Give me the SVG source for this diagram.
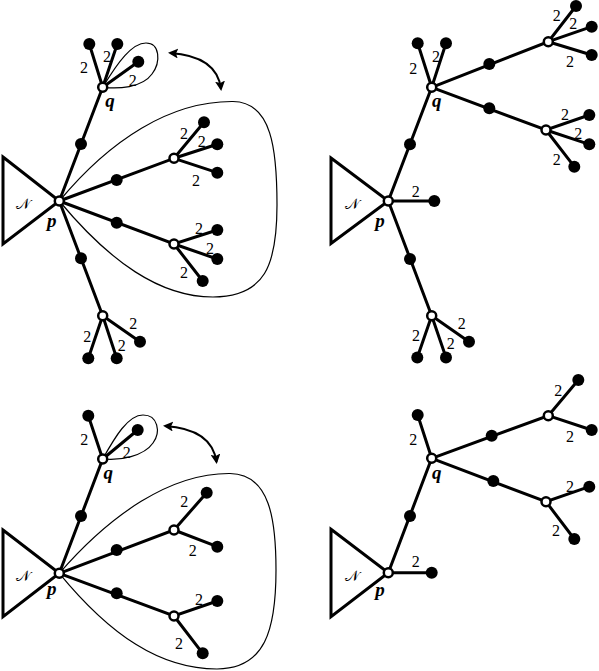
<svg xmlns="http://www.w3.org/2000/svg" width="599" height="671" viewBox="0 0 599 671">
<style>
.e{stroke:#000;stroke-width:3;fill:none;stroke-linecap:round}
.t{stroke:#000;stroke-width:3;fill:none;stroke-linejoin:miter}
.lp{stroke:#000;stroke-width:1.2;fill:none}
.ar{stroke:#000;stroke-width:2;fill:none}
.d{fill:#000}
.h{fill:#fff;stroke:#000;stroke-width:2.5}
.n{font-family:"Liberation Serif",serif;font-size:16px;text-anchor:middle}
.v{font-family:"Liberation Serif",serif;font-size:19px;font-weight:bold;font-style:italic;text-anchor:middle}
.N{font-family:"DejaVu Serif","Liberation Serif",serif;font-size:15px;font-weight:normal;text-anchor:middle}
</style>
<defs>
<marker id="ah" viewBox="0 0 10 10" refX="8" refY="5" markerWidth="5" markerHeight="5" orient="auto-start-reverse" markerUnits="strokeWidth">
<path d="M0,0 L10,5 L0,10 L2,5 Z" fill="#000"/>
</marker>
</defs>

<g id="connectors">
<!-- panel 1 -->
<path class="e" d="M102.7,87.3 L89.3,44 M102.7,87.3 L117.3,44 M102.7,87.3 L138.3,61.7 M102.7,87.3 L59.3,201 M59.3,201 L174,158.3 L204,122.3 M174,158.3 L217.3,144.3 M174,158.3 L217.3,172.7 M59.3,201 L174,244 L217.3,230 M174,244 L217.3,259 M174,244 L202.7,281 M59.3,201 L102.7,315.7 L88.3,358.3 M102.7,315.7 L116.7,358.3 M102.7,315.7 L140,341.7"/>
<path class="t" d="M3,157 L59.3,201 L3,244 Z"/>
<path class="lp" d="M102.7,87.3 C118,62 132,43 146,43 C160,43 161,62 152,74 C142,88 118,89 102.7,87.3 Z"/>
<path class="lp" d="M59.3,201 C110,140 170,101 233,101.5 C272,102 277,150 277,205 C277,265 265,297 213,297 C160,297 110,262 59.3,201 Z"/>
<path class="ar" d="M170,53 Q217,56 221,89" marker-start="url(#ah)" marker-end="url(#ah)"/>
<!-- panel 2 -->
<path class="e" d="M431.7,87.3 L417.7,43.3 M431.7,87.3 L446,43.3 M431.7,87.3 L548.3,41.7 L576,6 M548.3,41.7 L591.7,26.7 M548.3,41.7 L591.7,55 M431.7,87.3 L546,130 L589.3,115 M546,130 L589.3,144.3 M546,130 L574.3,166.7 M431.7,87.3 L388.3,201 L434.3,201 M388.3,201 L431.7,315.7 L417.3,357.5 M431.7,315.7 L446,357.5 M431.7,315.7 L469,341.7"/>
<path class="t" d="M331,158 L388.3,201 L331,243.5 Z"/>
<!-- panel 3 -->
<path class="e" d="M102.7,459 L88.3,415.7 M102.7,459 L137.7,430 M102.7,459 L59.3,573.3 M59.3,573.3 L174,530 L206.7,492.7 M174,530 L217.3,546.7 M59.3,573.3 L174,616 L217.3,601 M174,616 L202.7,653.3"/>
<path class="t" d="M3,530 L59.3,573.3 L3,616.7 Z"/>
<path class="lp" d="M102.7,459 C115,437 128,415 143,415 C158,415 161,432 153,443 C144,456 120,461 102.7,459 Z"/>
<path class="lp" d="M59.3,573.3 C110,515 170,473 230,473.5 C270,474 276,520 276,570 C276,630 265,669 217,669 C160,669 110,635 59.3,573.3 Z"/>
<path class="ar" d="M165,426 Q212,429 216.5,462" marker-start="url(#ah)" marker-end="url(#ah)"/>
<!-- panel 4 -->
<path class="e" d="M431.7,458.3 L417.7,415 M431.7,458.3 L548.3,415.7 L578.3,380 M548.3,415.7 L591.7,430 M431.7,458.3 L546,501.7 L589.3,486.7 M546,501.7 L574.3,539 M431.7,458.3 L388.3,572.7 L431.7,572.7"/>
<path class="t" d="M331,529.3 L388.3,572.7 L331,616.7 Z"/>
</g>

<g id="panel1-nodes">
<g class="d">
<circle cx="89.3" cy="44" r="6"/><circle cx="117.3" cy="44" r="6"/><circle cx="138.3" cy="61.7" r="6"/>
<circle cx="81" cy="144" r="6"/><circle cx="116.7" cy="180" r="6"/>
<circle cx="204" cy="122.3" r="6"/><circle cx="217.3" cy="144.3" r="6"/><circle cx="217.3" cy="172.7" r="6"/>
<circle cx="116.7" cy="222.7" r="6"/>
<circle cx="217.3" cy="230" r="6"/><circle cx="217.3" cy="259" r="6"/><circle cx="202.7" cy="281" r="6"/>
<circle cx="81" cy="258.3" r="6"/>
<circle cx="88.3" cy="358.3" r="6"/><circle cx="116.7" cy="358.3" r="6"/><circle cx="140" cy="341.7" r="6"/>
</g>
<g class="h">
<circle id="p1-q" cx="102.7" cy="87.3" r="4.5"/><circle id="p1-p" cx="59.3" cy="201" r="4.5"/>
<circle cx="174" cy="158.3" r="4.5"/><circle cx="174" cy="244" r="4.5"/><circle cx="102.7" cy="315.7" r="4.5"/>
</g>
<g>
<text class="n" x="84" y="72.5">2</text><text class="n" x="107" y="61.5">2</text><text class="n" x="132.7" y="85.5">2</text>
<text class="n" x="184" y="138.5">2</text><text class="n" x="201.7" y="146.5">2</text><text class="n" x="196" y="185.5">2</text>
<text class="n" x="199" y="233.5">2</text><text class="n" x="210" y="253.5">2</text><text class="n" x="184" y="278">2</text>
<text class="n" x="87.3" y="341.5">2</text><text class="n" x="121.7" y="350.5">2</text><text class="n" x="133.3" y="328.8">2</text>
<text class="v" x="110" y="107">q</text><text class="v" x="51.7" y="227">p</text>
<text class="N" x="23.3" y="208.5">𝒩</text>
</g>
</g>

<g id="panel2-nodes">
<g class="d">
<circle cx="417.7" cy="43.3" r="6"/><circle cx="446" cy="43.3" r="6"/>
<circle cx="489.3" cy="64" r="6"/>
<circle cx="576" cy="6" r="6"/><circle cx="591.7" cy="26.7" r="6"/><circle cx="591.7" cy="55" r="6"/>
<circle cx="489.3" cy="108.3" r="6"/>
<circle cx="589.3" cy="115" r="6"/><circle cx="589.3" cy="144.3" r="6"/><circle cx="574.3" cy="166.7" r="6"/>
<circle cx="410" cy="144.3" r="6"/><circle cx="434.3" cy="201" r="6"/><circle cx="410" cy="259" r="6"/>
<circle cx="417.3" cy="357.5" r="6"/><circle cx="446" cy="357.5" r="6"/><circle cx="469" cy="341.7" r="6"/>
</g>
<g class="h">
<circle cx="431.7" cy="87.3" r="4.5"/><circle cx="388.3" cy="201" r="4.5"/>
<circle cx="548.3" cy="41.7" r="4.5"/><circle cx="546" cy="130" r="4.5"/><circle cx="431.7" cy="315.7" r="4.5"/>
</g>
<g>
<text class="n" x="413.3" y="73.8">2</text><text class="n" x="436" y="62.2">2</text>
<text class="n" x="556.7" y="20.5">2</text><text class="n" x="573.3" y="28.8">2</text><text class="n" x="570" y="66.5">2</text>
<text class="n" x="565" y="119.5">2</text><text class="n" x="578.3" y="138.8">2</text><text class="n" x="556.7" y="164.8">2</text>
<text class="n" x="415.7" y="197.2">2</text>
<text class="n" x="416" y="340.5">2</text><text class="n" x="450.7" y="348.8">2</text><text class="n" x="461.7" y="328.8">2</text>
<text class="v" x="436.7" y="107">q</text><text class="v" x="380" y="227">p</text>
<text class="N" x="351.7" y="208.5">𝒩</text>
</g>
</g>

<g id="panel3-nodes">
<g class="d">
<circle cx="88.3" cy="415.7" r="6"/><circle cx="137.7" cy="430" r="6"/>
<circle cx="81" cy="516" r="6"/><circle cx="116.7" cy="550" r="6"/>
<circle cx="206.7" cy="492.7" r="6"/><circle cx="217.3" cy="546.7" r="6"/>
<circle cx="116.7" cy="593.3" r="6"/>
<circle cx="217.3" cy="601" r="6"/><circle cx="202.7" cy="653.3" r="6"/>
</g>
<g class="h">
<circle cx="102.7" cy="459" r="4.5"/><circle cx="59.3" cy="573.3" r="4.5"/>
<circle cx="174" cy="530" r="4.5"/><circle cx="174" cy="616" r="4.5"/>
</g>
<g>
<text class="n" x="84.3" y="444.8">2</text><text class="n" x="126.7" y="458.2">2</text>
<text class="n" x="184.3" y="507.2">2</text><text class="n" x="192.7" y="556.2">2</text>
<text class="n" x="199" y="604.5">2</text><text class="n" x="179" y="648.8">2</text>
<text class="v" x="108.3" y="478.5">q</text><text class="v" x="51.7" y="595">p</text>
<text class="N" x="23.3" y="580.5">𝒩</text>
</g>
</g>

<g id="panel4-nodes">
<g class="d">
<circle cx="417.7" cy="415" r="6"/>
<circle cx="491.7" cy="435.7" r="6"/>
<circle cx="578.3" cy="380" r="6"/><circle cx="591.7" cy="430" r="6"/>
<circle cx="493.3" cy="481" r="6"/>
<circle cx="589.3" cy="486.7" r="6"/><circle cx="574.3" cy="539" r="6"/>
<circle cx="410" cy="516" r="6"/><circle cx="431.7" cy="572.7" r="6"/>
</g>
<g class="h">
<circle cx="431.7" cy="458.3" r="4.5"/><circle cx="388.3" cy="572.7" r="4.5"/>
<circle cx="548.3" cy="415.7" r="4.5"/><circle cx="546" cy="501.7" r="4.5"/>
</g>
<g>
<text class="n" x="413.3" y="444.5">2</text>
<text class="n" x="558.3" y="396.2">2</text><text class="n" x="570" y="441.5">2</text>
<text class="n" x="570" y="491.5">2</text><text class="n" x="556" y="536.2">2</text>
<text class="n" x="415.7" y="567.2">2</text>
<text class="v" x="436.7" y="478.5">q</text><text class="v" x="380" y="596">p</text>
<text class="N" x="351.7" y="580.5">𝒩</text>
</g>
</g>
</svg>
